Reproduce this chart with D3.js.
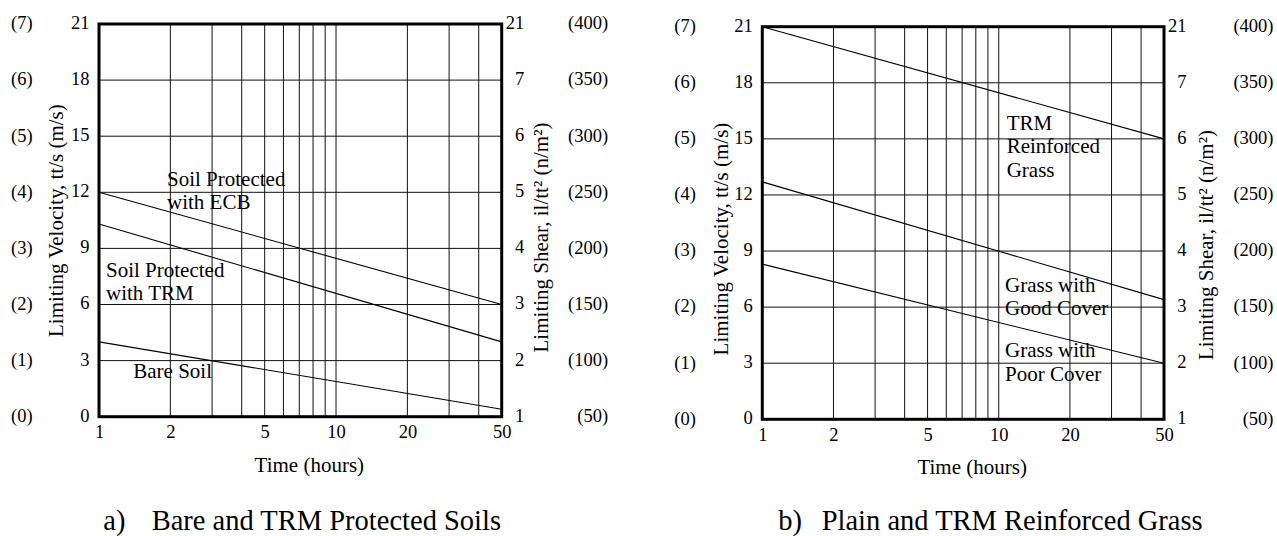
<!DOCTYPE html>
<html>
<head>
<meta charset="utf-8">
<script src="https://cdn.jsdelivr.net/npm/d3@7"></script>
<style>
  html, body { margin: 0; padding: 0; background: #fff; }
  svg { display: block; font-family: "Liberation Serif", "Times New Roman", serif; }
</style>
</head>
<body>
<svg id="chart" width="1277" height="536"></svg>
<script>
// ---------- data ----------
const timeEnds = [1, 50];
const timeTicks = [1, 2, 5, 10, 20, 50];
const timeGrid = [2, 3, 4, 5, 6, 7, 8, 9, 10, 20, 30, 40];
const velocityTicks = [0, 3, 6, 9, 12, 15, 18, 21];
const velocityMetricLabels = ["(0)", "(1)", "(2)", "(3)", "(4)", "(5)", "(6)", "(7)"];
const shearLabels = ["1", "2", "3", "4", "5", "6", "7", "21"];
const shearMetricLabels = ["(50)", "(100)", "(150)", "(200)", "(250)", "(300)", "(350)", "(400)"];

// panel a) velocity (ft/s) at 1 h and 50 h
const soilECB = [12, 6];
const soilTRM = [10.3, 4];
const bareSoil = [4, 0.4];
// panel b)
const trmGrass = [21, 15];
const grassGood = [12.7, 6.4];
const grassPoor = [8.3, 3];

const panels = [
  {
    left: 99, top: 24, width: 402.7, height: 392.7,
    series: [soilECB, soilTRM, bareSoil],
    labels: [
      { lines: ["Soil Protected", "with ECB"], dx: 68, dy: 162 },
      { lines: ["Soil Protected", "with TRM"], dx: 7, dy: 252.7 },
      { lines: ["Bare Soil"], dx: 34.3, dy: 354.3 }
    ],
    letter: "a)", title: "Bare and TRM Protected Soils", letterDx: 4.3, titleDx: 52.7,
    yTitleL: { dx: -36.2, cy: 196.6 }, yTitleR: { dx: 46.1, cy: 213.5 },
    outerR: 106.5
  },
  {
    left: 762.3, top: 26.7, width: 401.7, height: 392.6,
    series: [trmGrass, grassGood, grassPoor],
    labels: [
      { lines: ["TRM", "Reinforced", "Grass"], dx: 244.4, dy: 103.5 },
      { lines: ["Grass with", "Good Cover"], dx: 242.7, dy: 265.6 },
      { lines: ["Grass with", "Poor Cover"], dx: 242.7, dy: 330.8 }
    ],
    letter: "b)", title: "Plain and TRM Reinforced Grass", letterDx: 16, titleDx: 59.4,
    yTitleL: { dx: -34.5, cy: 212.3 }, yTitleR: { dx: 48.8, cy: 218.3 },
    outerR: 109.5
  }
];

const svg = d3.select("#chart");
const TICK_FS = 18.5, LABEL_FS = 21, TITLE_FS = 28.5;

panels.forEach(p => {
  const g = svg.append("g").attr("transform", `translate(${p.left},${p.top})`);
  const x = d3.scaleLog().domain([1, 50]).range([0, p.width]);
  const y = d3.scaleLinear().domain([0, 21]).range([p.height, 0]);

  // grid
  g.append("g").selectAll("line.v").data(timeGrid).join("line")
    .attr("x1", d => x(d)).attr("x2", d => x(d))
    .attr("y1", 0).attr("y2", p.height)
    .attr("stroke", "#111").attr("stroke-width", 1);
  g.append("g").selectAll("line.h").data(velocityTicks.slice(1, -1)).join("line")
    .attr("x1", 0).attr("x2", p.width)
    .attr("y1", d => y(d)).attr("y2", d => y(d))
    .attr("stroke", "#111").attr("stroke-width", 1);

  // data lines
  const line = d3.line().x(d => x(d[0])).y(d => y(d[1]));
  p.series.forEach(s => {
    g.append("path")
      .datum(timeEnds.map((t, i) => [t, s[i]]))
      .attr("d", line)
      .attr("fill", "none").attr("stroke", "#000").attr("stroke-width", 1.1);
  });

  // frame
  g.append("rect").attr("x", 0).attr("y", 0).attr("width", p.width).attr("height", p.height)
    .attr("fill", "none").attr("stroke", "#000").attr("stroke-width", 3);

  // axes
  const styleAxis = sel => {
    sel.select(".domain").remove();
    sel.selectAll(".tick line").remove();
    sel.selectAll("text").attr("font-family", "Liberation Serif").attr("font-size", TICK_FS).attr("fill", "#000");
  };
  const xAx = g.append("g").attr("transform", `translate(0,${p.height})`)
    .call(d3.axisBottom(x).tickValues(timeTicks).tickFormat(d3.format("d")).tickSize(0).tickPadding(0));
  styleAxis(xAx);
  xAx.selectAll("text").attr("y", 21.8).attr("dy", 0);

  const yL = g.append("g")
    .call(d3.axisLeft(y).tickValues(velocityTicks).tickFormat(d3.format("d")).tickSize(0).tickPadding(9.5));
  styleAxis(yL);
  yL.selectAll("text").attr("dy", "0.24em");

  const yLO = g.append("g")
    .call(d3.axisLeft(y).tickValues(velocityTicks).tickFormat((d, i) => velocityMetricLabels[i]).tickSize(0).tickPadding(0));
  styleAxis(yLO);
  yLO.selectAll("text").attr("x", -88).attr("text-anchor", "start").attr("dy", "0.26em");

  const yR = g.append("g").attr("transform", `translate(${p.width},0)`)
    .call(d3.axisRight(y).tickValues(velocityTicks).tickFormat((d, i) => shearLabels[i]).tickSize(0).tickPadding(0));
  styleAxis(yR);
  yR.selectAll("text").attr("x", 22.6).attr("text-anchor", "end").attr("dy", "0.24em");

  const yRO = g.append("g").attr("transform", `translate(${p.width},0)`)
    .call(d3.axisRight(y).tickValues(velocityTicks).tickFormat((d, i) => shearMetricLabels[i]).tickSize(0).tickPadding(0));
  styleAxis(yRO);
  yRO.selectAll("text").attr("x", p.outerR).attr("text-anchor", "end").attr("dy", "0.26em");

  // axis titles
  g.append("text").attr("x", p.width / 2 + 9).attr("y", p.height + 55)
    .attr("text-anchor", "middle").attr("font-size", LABEL_FS).text("Time (hours)");
  g.append("text")
    .attr("transform", `translate(${p.yTitleL.dx},${p.yTitleL.cy}) rotate(-90)`)
    .attr("text-anchor", "middle").attr("font-size", LABEL_FS)
    .text("Limiting Velocity, tt/s (m/s)");
  g.append("text")
    .attr("transform", `translate(${p.width + p.yTitleR.dx},${p.yTitleR.cy}) rotate(-90)`)
    .attr("text-anchor", "middle").attr("font-size", LABEL_FS)
    .text("Limiting Shear, il/tt² (n/m²)");

  // annotations
  p.labels.forEach(l => {
    const t = g.append("text").attr("font-size", LABEL_FS).attr("x", l.dx).attr("y", l.dy);
    l.lines.forEach((ln, i) => {
      t.append("tspan").attr("x", l.dx).attr("y", l.dy + i * 23.2).text(ln);
    });
  });

  // panel title
  svg.append("text").attr("x", p.left + p.letterDx).attr("y", 530)
    .attr("font-size", TITLE_FS).text(p.letter);
  svg.append("text").attr("x", p.left + p.titleDx).attr("y", 530)
    .attr("font-size", TITLE_FS).text(p.title);
});
</script>
</body>
</html>
